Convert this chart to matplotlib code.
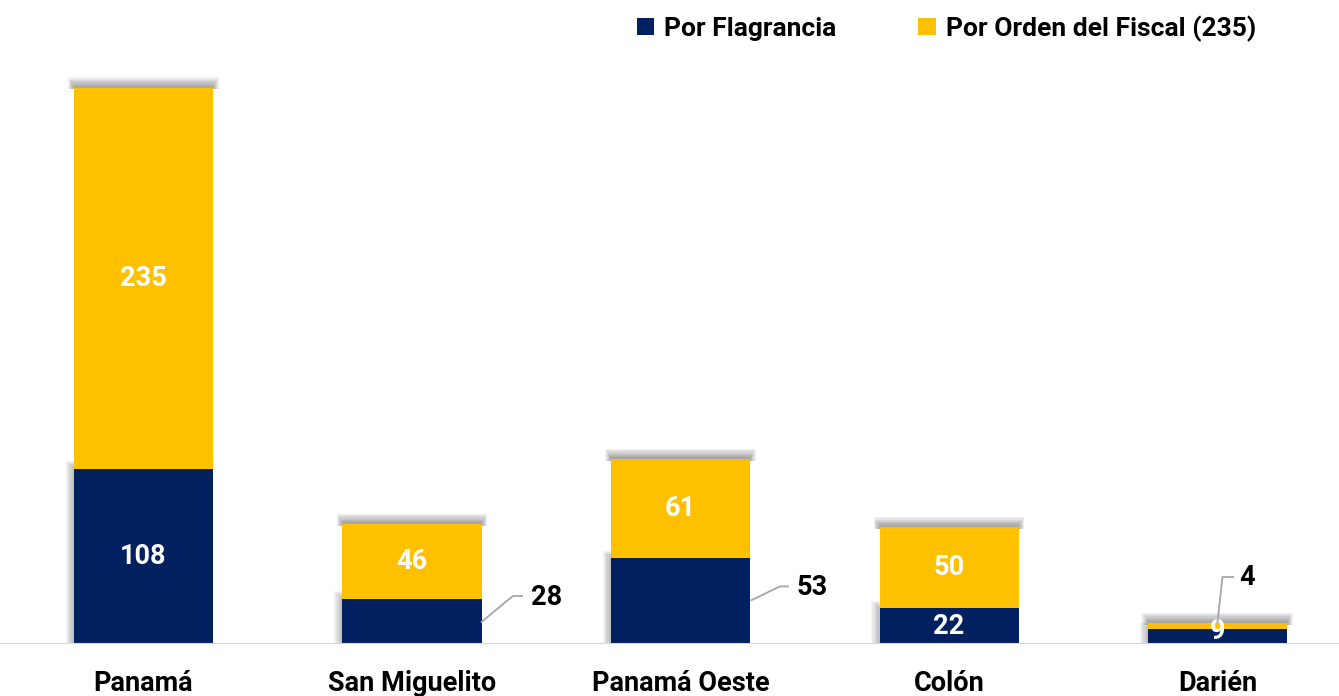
import matplotlib
matplotlib.use("Agg")
import matplotlib.pyplot as plt
from matplotlib.patches import Rectangle

# data
regiones = ["Panamá", "San Miguelito", "Panamá Oeste", "Colón", "Darién"]
flagrancia = [108, 28, 53, 22, 9]
orden_fiscal = [235, 46, 61, 50, 4]

NAVY = "#002060"
YELLOW = "#FFC000"

plt.rcParams["font.family"] = ["Roboto", "DejaVu Sans"]
plt.rcParams["font.weight"] = "bold"

fig = plt.figure(figsize=(13.39, 6.96), dpi=100)
ax = fig.add_axes([0, 0.0747, 1, 0.9253])
ax.set_xlim(-0.534, 4.452)
ax.set_ylim(0, 397)

x = list(range(len(regiones)))
w = 0.518

# soft shadow above each stack and left of the lower segment
for xi, f, o in zip(x, flagrancia, orden_fiscal):
    top = f + o
    for k in range(8):
        ax.add_patch(Rectangle((xi - w / 2 - k * 0.003, top - 1),
                               w + k * 0.006, 2 + k * 0.75,
                               color="0.3", alpha=0.08, lw=0, zorder=1))
    for k in range(7):
        ax.add_patch(Rectangle((xi - w / 2 - 0.004 - k * 0.0045, 0),
                               0.03, f + 1 + k * 0.6,
                               color="0.3", alpha=0.06, lw=0, zorder=1))

ax.bar(x, flagrancia, w, color=NAVY, zorder=3, label="Por Flagrancia")
ax.bar(x, orden_fiscal, w, bottom=flagrancia, color=YELLOW, zorder=3,
       label="Por Orden del Fiscal (235)")

fs = 19.5
# labels inside the bars
for xi, f, o in zip(x, flagrancia, orden_fiscal):
    if o >= 20:
        ax.text(xi, f + o / 2, str(o), ha="center", va="center", color="white",
                fontsize=fs, fontweight="bold", zorder=5)
    if f >= 20 and xi not in (1, 2):
        ax.text(xi, f / 2, str(f), ha="center", va="center", color="white",
                fontsize=fs, fontweight="bold", zorder=5)
ax.text(4, flagrancia[4] - 1.5, str(flagrancia[4]), ha="center", va="center",
        color="white", fontsize=fs, fontweight="bold", zorder=5)

# callouts with leader lines: (points, text x, text y, value)
callouts = [
    ([(1 + w / 2, 13.6), (1.376, 29.6), (1.41, 29.6)], 1.444, 28.6, flagrancia[1]),
    ([(2 + w / 2 + 0.005, 27), (2.37, 35.5), (2.40, 35.5)], 2.434, 35.0, flagrancia[2]),
    ([(4.0, 14), (4.018, 41.3), (4.058, 41.3)], 4.082, 41.0, orden_fiscal[4]),
]
for pts, tx, ty, val in callouts:
    xs, ys = zip(*pts)
    ax.plot(xs, ys, color="#a6a6a6", lw=1.3, zorder=6)
    ax.text(tx, ty, str(val), ha="left", va="center", color="black",
            fontsize=fs, fontweight="bold", zorder=6)

ax.axhline(0, color="#d9d9d9", lw=1.5, zorder=4)
for s in ax.spines.values():
    s.set_visible(False)
ax.set_yticks([])
ax.set_xticks(x)
ax.set_xticklabels(regiones, fontsize=fs, fontweight="bold")
ax.tick_params(axis="x", length=0, pad=19)

leg = fig.legend(loc="upper right", bbox_to_anchor=(0.956, 1.012), ncol=2,
                 frameon=False, handlelength=0.65, handleheight=0.65,
                 handletextpad=0.4, columnspacing=3.1, prop={"weight": "bold", "size": 19})

fig.savefig("out.png", dpi=100)
